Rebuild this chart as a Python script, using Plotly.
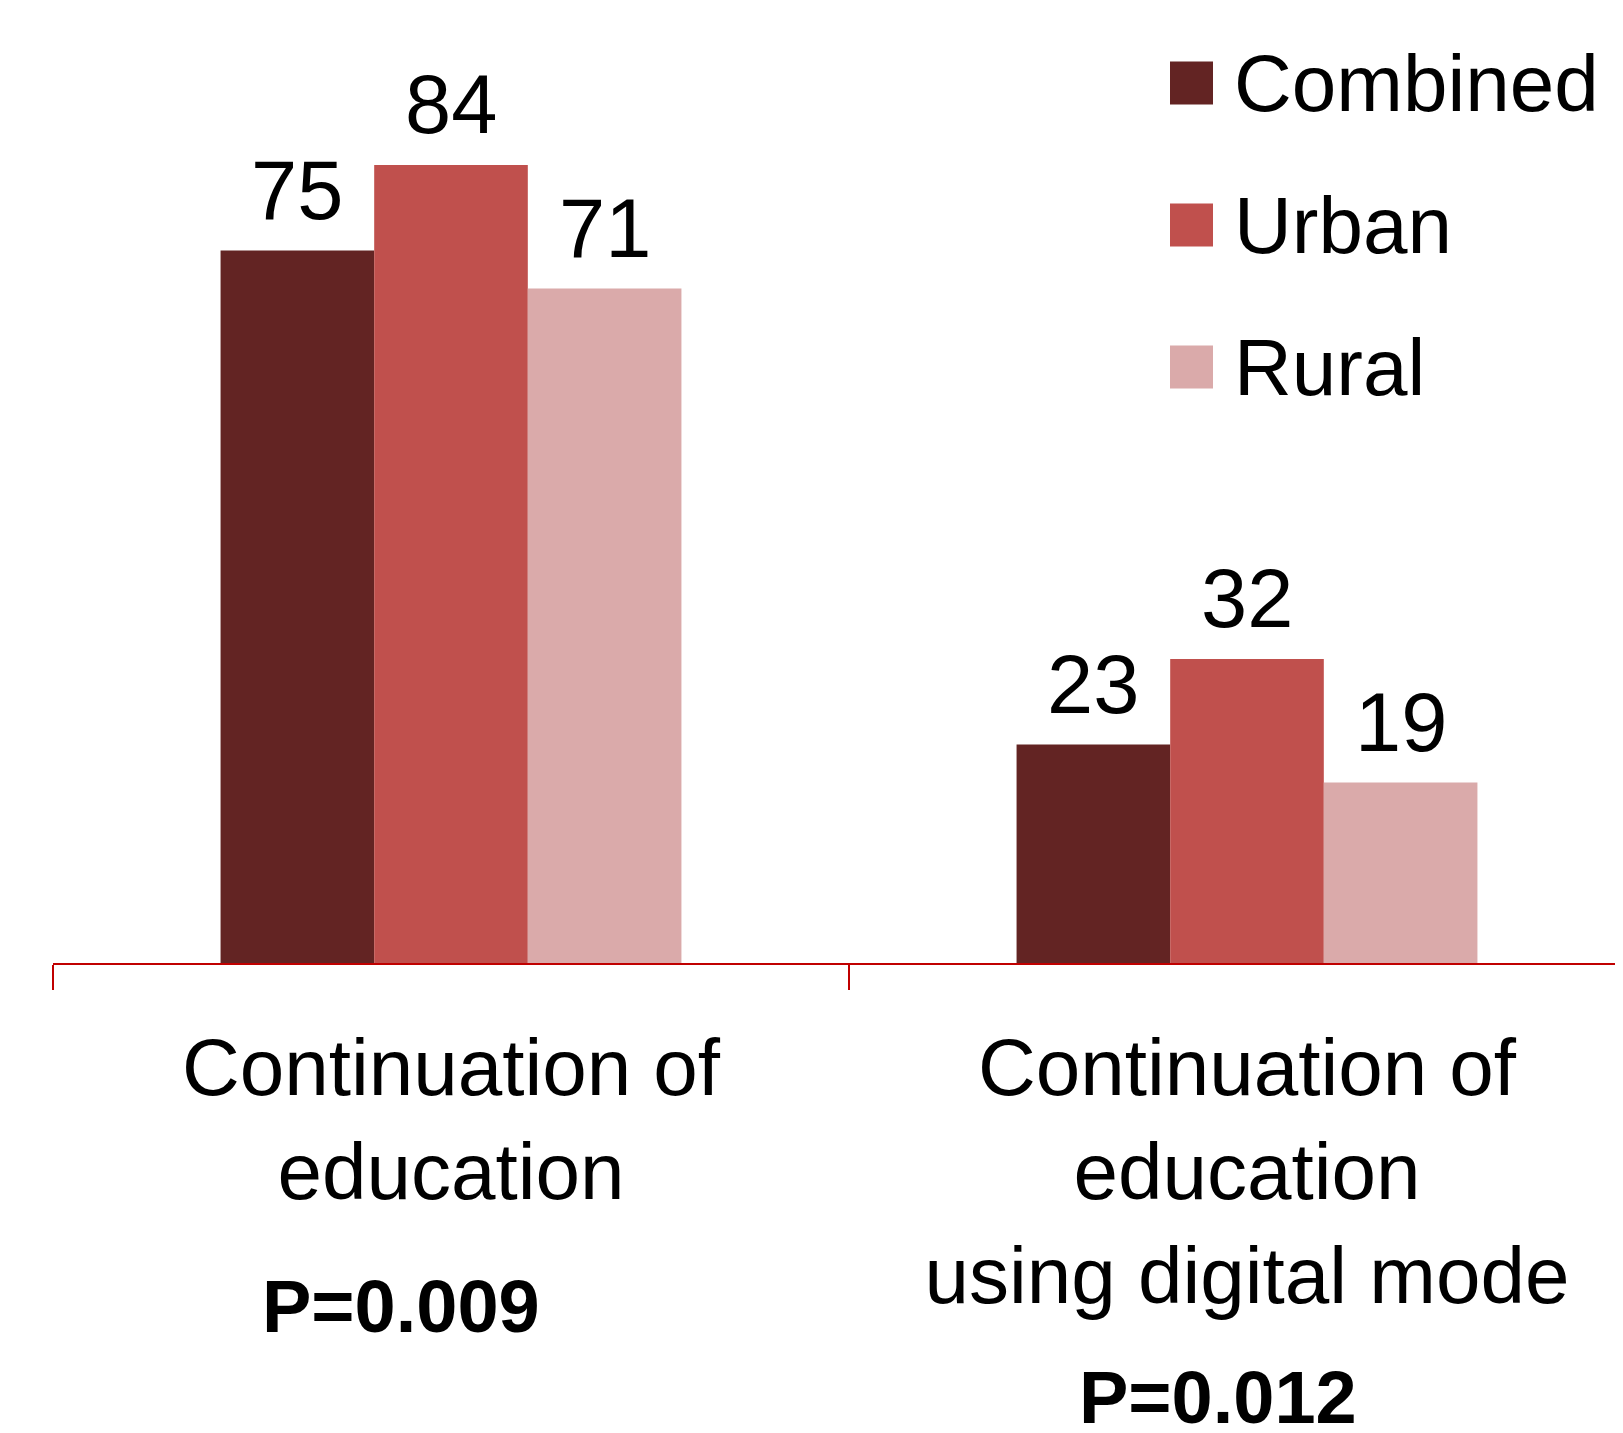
import plotly.graph_objects as go

categories = ["Continuation of<br>education", "Continuation of<br>education<br>using digital mode"]
series_names = ["Combined", "Urban", "Rural"]
combined = [75, 23]
urban = [84, 32]
rural = [71, 19]
p_values = ["P=0.009", "P=0.012"]

colors = ["#632423", "#C0504D", "#DAAAAA"]
FONT = "Liberation Sans"

# page body has an 8px offset; figure is sized to fit the viewport
OFF = 8
W, H = 1623 - OFF, 1433 - OFF
ml, mr, mt, mb = 53 - OFF, 0, 13 - OFF, 470
plot_w = W - ml - mr
plot_h = H - mt - mb
cat_px = 796.0
bargap = 0.421
bar_px = cat_px * (1 - bargap) / 3

def px_to_paper_x(px):  # px in page coords
    return (px - OFF - ml) / plot_w

def px_to_paper_y(py):  # py in page coords
    return (H - mb - (py - OFF)) / plot_h

fig = go.Figure()
all_vals = [combined, urban, rural]
for name, vals, col in zip(series_names, all_vals, colors):
    fig.add_trace(go.Bar(
        x=categories, y=vals, name=name,
        marker=dict(color=col, line=dict(width=0)),
        showlegend=False,
    ))

# value labels above bars
for si, vals in enumerate(all_vals):
    for ci, v in enumerate(vals):
        fig.add_annotation(xref="x", yref="y", x=categories[ci], y=v,
                           xshift=(si - 1) * bar_px, yshift=12,
                           text=str(v), showarrow=False, xanchor="center", yanchor="bottom",
                           font=dict(size=83, color="black", family=FONT))

# manual legend
legend_rows = [83, 225, 367]
for name, col, cy in zip(series_names, colors, legend_rows):
    fig.add_shape(type="rect", xref="paper", yref="paper",
                  x0=px_to_paper_x(1170), x1=px_to_paper_x(1213),
                  y0=px_to_paper_y(cy - 21.5), y1=px_to_paper_y(cy + 21.5),
                  fillcolor=col, line=dict(width=0))
    fig.add_annotation(xref="paper", yref="paper", x=px_to_paper_x(1232), y=px_to_paper_y(cy),
                       text=name, showarrow=False, xanchor="left", yanchor="middle",
                       font=dict(size=80, color="black", family=FONT))

# p-value annotations
p_centers = [(0, -50, 1306), (1, -29, 1398)]
for (idx, xs, cy), pv in zip(p_centers, p_values):
    fig.add_annotation(xref="x", yref="paper", x=categories[idx], xshift=xs,
                       y=px_to_paper_y(cy), text="<b>" + pv + "</b>", showarrow=False,
                       xanchor="center", yanchor="middle",
                       font=dict(size=74, color="black", family=FONT))

fig.update_layout(
    width=W, height=H,
    margin=dict(l=ml, r=mr, t=mt, b=mb, pad=0),
    plot_bgcolor="white", paper_bgcolor="white",
    barmode="group", bargap=bargap, bargroupgap=0,
    font=dict(family=FONT, color="black"),
    xaxis=dict(
        type="category", range=[-0.5, -0.5 + plot_w / cat_px],
        showline=True, linecolor="#C00000", linewidth=2,
        ticks="outside", tickson="boundaries", ticklen=25, tickcolor="#C00000", tickwidth=2,
        tickfont=dict(size=80, color="black", family=FONT),
        ticklabelstandoff=34,
        showgrid=False, zeroline=False,
    ),
    yaxis=dict(range=[0, 100], visible=False, showgrid=False, zeroline=False),
)

fig.write_html("out.html")
